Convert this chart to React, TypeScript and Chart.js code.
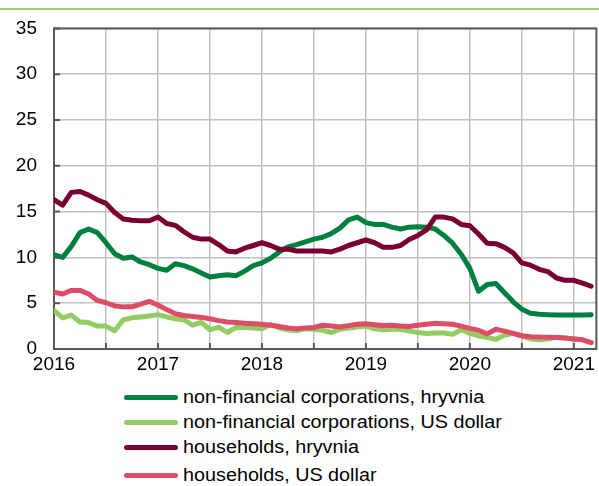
import React, { useEffect, useRef } from 'react';
import { Chart, registerables } from 'chart.js';

Chart.register(...registerables);

// ---- data ----
const startYear = 2016;
const monthCount = 63; // Jan 2016 .. Mar 2021
const months: string[] = Array.from({ length: monthCount }, (_, i) => `${startYear + Math.floor(i / 12)}-${String((i % 12) + 1).padStart(2, '0')}`);

const nfcHryvnia = [
  10.3, 10.0, 11.2, 12.7, 13.1, 12.7, 11.6, 10.4, 9.9, 10.05, 9.5, 9.2,
  8.8, 8.6, 9.3, 9.1, 8.75, 8.3, 7.85, 8.0, 8.1, 8.0, 8.5, 9.1,
  9.4, 9.9, 10.6, 11.15, 11.4, 11.7, 12.0, 12.2, 12.6, 13.2, 14.1, 14.4,
  13.8, 13.6, 13.6, 13.3, 13.1, 13.3, 13.35, 13.3, 13.1, 12.4, 11.55, 10.35,
  8.8, 6.3, 7.05, 7.15, 6.15, 5.15, 4.35, 3.9, 3.8, 3.75, 3.7, 3.7,
  3.7, 3.7, 3.75,
];
const nfcUsd = [
  4.2, 3.4, 3.7, 2.95, 2.9, 2.5, 2.5, 2.0, 3.2, 3.4, 3.5, 3.6,
  3.75, 3.5, 3.3, 3.2, 2.6, 2.9, 2.1, 2.4, 1.8, 2.35, 2.35, 2.3,
  2.2, 2.7, 2.3, 2.1, 2.0, 2.2, 2.15, 2.05, 1.8, 2.15, 2.3, 2.4,
  2.5, 2.2, 2.1, 2.15, 2.15, 1.95, 1.8, 1.7, 1.75, 1.75, 1.6, 2.1,
  1.7, 1.45, 1.25, 1.05, 1.5, 1.7, 1.4, 1.1, 1.0, 1.1, 1.3, 1.2,
  1.1, 1.0, 0.7,
];
const hhHryvnia = [
  16.3, 15.7, 17.1, 17.2, 16.8, 16.3, 15.9, 14.9, 14.2, 14.05, 14.0, 14.0,
  14.4, 13.7, 13.5, 12.8, 12.2, 12.0, 12.0, 11.4, 10.7, 10.6, 11.0, 11.3,
  11.6, 11.3, 10.9, 10.9, 10.7, 10.7, 10.7, 10.7, 10.6, 10.9, 11.3, 11.6,
  11.9, 11.6, 11.1, 11.1, 11.3, 11.95, 12.4, 13.0, 14.4, 14.4, 14.2, 13.6,
  13.45, 12.55, 11.55, 11.5, 11.1, 10.5, 9.4, 9.15, 8.7, 8.45, 7.75, 7.5,
  7.5, 7.2, 6.85,
];
const hhUsd = [
  6.2, 6.0, 6.4, 6.4, 6.0, 5.3, 5.05, 4.7, 4.6, 4.6, 4.9, 5.2,
  4.8, 4.3, 3.85, 3.65, 3.55, 3.45, 3.3, 3.1, 2.95, 2.9, 2.8, 2.75,
  2.7, 2.6, 2.45, 2.3, 2.2, 2.3, 2.35, 2.6, 2.5, 2.4, 2.55, 2.7,
  2.75, 2.65, 2.57, 2.6, 2.5, 2.45, 2.6, 2.7, 2.8, 2.75, 2.7, 2.5,
  2.25, 2.05, 1.65, 2.15, 1.95, 1.7, 1.45, 1.35, 1.3, 1.28, 1.25, 1.2,
  1.1, 1.0, 0.7,
];

const seriesLabels = [
  'non-financial corporations, hryvnia',
  'non-financial corporations, US dollar',
  'households, hryvnia',
  'households, US dollar',
];
const seriesColors = ['#00803F', '#92CC62', '#7A0032', '#DE4D68'];
const seriesValues = [nfcHryvnia, nfcUsd, hhHryvnia, hhUsd];

const yTicks = [0, 5, 10, 15, 20, 25, 30, 35];
const xTickMonths = [0, 6, 12, 18, 24, 30, 36, 42, 48, 54, 60];

const FONT = "'Liberation Sans', Arial, sans-serif";

const framePlugin = {
  id: 'frame',
  beforeDatasetsDraw(chart: any) {
    const { ctx, chartArea, scales } = chart;
    const { left, top, right, bottom } = chartArea;
    ctx.save();
    ctx.strokeStyle = '#595959';
    ctx.lineWidth = 2;
    ctx.strokeRect(left, top, right - left, bottom - top);
    ctx.beginPath();
    scales.x.ticks.forEach((t: any) => {
      const px = scales.x.getPixelForValue(t.value);
      ctx.moveTo(px, bottom);
      ctx.lineTo(px, bottom - 6);
    });
    scales.y.ticks.forEach((t: any) => {
      const py = scales.y.getPixelForValue(t.value);
      ctx.moveTo(left, py);
      ctx.lineTo(left + 6, py);
    });
    ctx.stroke();
    ctx.restore();
  },
};

export default function App() {
  const canvasRef = useRef<HTMLCanvasElement | null>(null);

  useEffect(() => {
    document.body.style.margin = '0';
    const canvas = canvasRef.current;
    if (!canvas) return;
    const chart = new Chart(canvas, {
      type: 'line',
      data: {
        labels: months,
        datasets: seriesValues.map((vals, k) => ({
          label: seriesLabels[k],
          data: vals.map((v, i) => ({ x: i, y: v })),
          borderColor: seriesColors[k],
          backgroundColor: seriesColors[k],
          borderWidth: 5,
          pointRadius: 0,
          tension: 0,
          borderJoinStyle: 'round' as const,
          borderCapStyle: 'round' as const,
          order: 4 - k,
        })),
      },
      options: {
        responsive: false,
        animation: false,
        layout: { padding: { top: 22, right: 1, left: 0, bottom: 0 } },
        plugins: {
          legend: { display: false },
          tooltip: { enabled: false },
          title: { display: false },
        },
        scales: {
          x: {
            type: 'linear',
            min: 0,
            max: 62.6,
            afterBuildTicks: (axis: any) => {
              axis.ticks = xTickMonths.map((v) => ({ value: v }));
            },
            afterFit: (axis: any) => {
              axis.height = 31;
            },
            ticks: {
              autoSkip: false,
              maxRotation: 0,
              padding: 4,
              color: '#000',
              font: { family: FONT, size: 19 },
              callback: (v: any) => (Number(v) % 12 === 0 ? String(startYear + Number(v) / 12) : ''),
            },
            grid: { color: '#C0C0C0', lineWidth: 1.5, drawTicks: false },
            border: { display: false },
          },
          y: {
            min: 0,
            max: 35,
            afterBuildTicks: (axis: any) => {
              axis.ticks = yTicks.map((v) => ({ value: v }));
            },
            afterFit: (axis: any) => {
              axis.width = 54;
            },
            ticks: {
              padding: 17,
              color: '#000',
              font: { family: FONT, size: 19 },
            },
            grid: { color: '#C0C0C0', lineWidth: 1.5, drawTicks: false },
            border: { display: false },
          },
        },
      },
      plugins: [framePlugin],
    });
    return () => chart.destroy();
  }, []);

  const legendRows = [397, 422, 447, 475];

  return (
    <div style={{ position: 'relative', width: 599, height: 486, overflow: 'hidden', background: '#fff' }}>
      <div style={{ position: 'absolute', left: 0, top: 8, width: 599, height: 2, background: '#9CCB72' }} />
      <canvas ref={canvasRef} width={599} height={380} style={{ position: 'absolute', left: 0, top: 0 }} />
      {seriesLabels.map((label, k) => (
        <div
          key={label}
          style={{
            position: 'absolute',
            left: 124,
            top: legendRows[k] - 12,
            height: 24,
            display: 'flex',
            alignItems: 'center',
            whiteSpace: 'nowrap',
          }}
        >
          <div style={{ width: 54, height: 5, borderRadius: 3, background: seriesColors[k] }} />
          <span
            style={{
              marginLeft: 5,
              fontFamily: FONT,
              fontSize: 17.5,
              color: '#000',
              display: 'inline-block',
              transform: 'scaleX(1.13)',
              transformOrigin: 'left center',
            }}
          >
            {label}
          </span>
        </div>
      ))}
    </div>
  );
}
